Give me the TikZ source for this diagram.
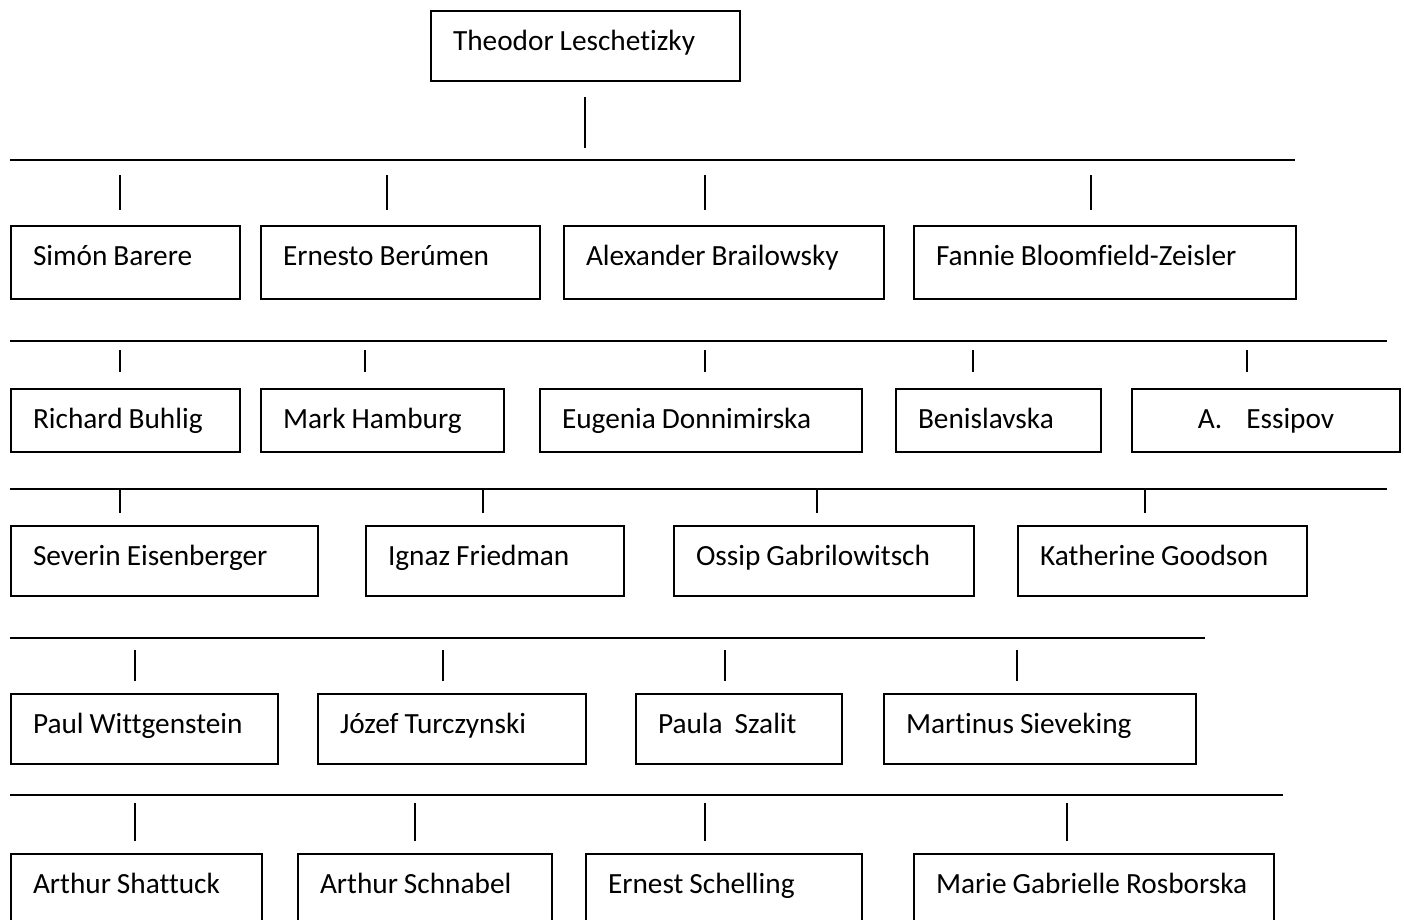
\documentclass[tikz,border=0pt]{standalone}
\usepackage{fontspec}
\setmainfont{Carlito}[Ligatures=CommonOff]
\usepackage{tikz}
\usetikzlibrary{positioning}

\begin{document}
\begin{tikzpicture}[x=1pt, y=-1pt, line width=2pt,
  person/.style 2 args={draw, line width=2pt, anchor=north west, align=left,
    inner xsep=22pt, inner ysep=0pt, text width=#1, text height=39pt, text depth=#2,
    font=\fontsize{29.3}{35}\selectfont,
    execute at begin node={\spaceskip=6pt plus 1pt minus 1pt\relax}}
]
\clip (0,0) rectangle (1404,919);

% Teacher
\node[person={265pt}{31pt}] (leschetizky) at (430,10) {Theodor Leschetizky};
\draw (585,97) -- (585,148);

% Row 1
\draw (10,160) -- (1295,160);
\foreach \x in {120,387,705,1091} \draw (\x,175) -- (\x,210);
\node[person={185pt}{34pt}] (barere) at (10,225) {Simón Barere};
\node[person={235pt}{34pt}] (berumen) at (260,225) {Ernesto Berúmen};
\node[person={276pt}{34pt}] (brailowsky) at (563,225) {Alexander Brailowsky};
\node[person={338pt}{34pt}] (bloomfield) at (913,225) {Fannie Bloomfield-Zeisler};

% Row 2
\draw (10,341) -- (1387,341);
\foreach \x in {120,365,705,973,1247} \draw (\x,350) -- (\x,372);
\node[person={185pt}{24pt}] (buhlig) at (10,388) {Richard Buhlig};
\node[person={199pt}{24pt}] (hamburg) at (260,388) {Mark Hamburg};
\node[person={278pt}{24pt}] (donnimirska) at (539,388) {Eugenia Donnimirska};
\node[person={161pt}{24pt}] (benislavska) at (895,388) {Benislavska};
\node[person={224pt}{24pt}, align=center] (essipov) at (1131,388) {A.\hspace{24pt}Essipov};

% Row 3
\draw (10,489) -- (1387,489);
\foreach \x in {120,483,817,1145} \draw (\x,489) -- (\x,513);
\node[person={263pt}{31pt}] (eisenberger) at (10,525) {Severin Eisenberger};
\node[person={214pt}{31pt}] (friedman) at (365,525) {Ignaz Friedman};
\node[person={256pt}{31pt}] (gabrilowitsch) at (673,525) {Ossip Gabrilowitsch};
\node[person={245pt}{31pt}] (goodson) at (1017,525) {Katherine Goodson};

% Row 4
\draw (10,638) -- (1205,638);
\foreach \x in {135,443,725,1017} \draw (\x,650) -- (\x,681);
\node[person={223pt}{31pt}] (wittgenstein) at (10,693) {Paul Wittgenstein};
\node[person={224pt}{31pt}] (turczynski) at (317,693) {Józef Turczynski};
\node[person={162pt}{31pt}] (szalit) at (635,693) {Paula\ \ Szalit};
\node[person={268pt}{31pt}] (sieveking) at (883,693) {Martinus Sieveking};

% Row 5
\draw (10,795) -- (1283,795);
\foreach \x in {135,415,705,1067} \draw (\x,803) -- (\x,841);
\node[person={207pt}{41pt}] (shattuck) at (10,853) {Arthur Shattuck};
\node[person={210pt}{41pt}] (schnabel) at (297,853) {Arthur Schnabel};
\node[person={232pt}{41pt}] (schelling) at (585,853) {Ernest Schelling};
\node[person={316pt}{41pt}] (rosborska) at (913,853) {Marie Gabrielle Rosborska};

\end{tikzpicture}
\end{document}
